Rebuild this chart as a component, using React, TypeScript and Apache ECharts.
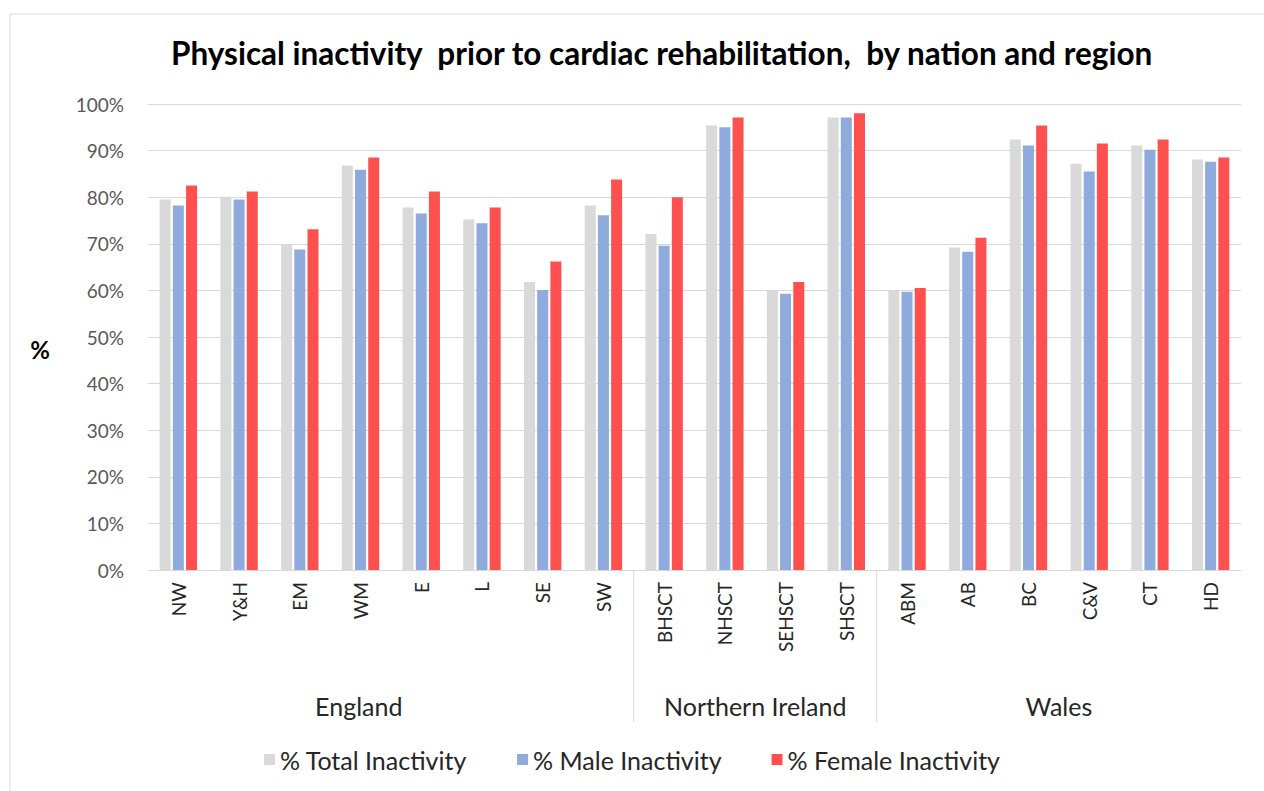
import React, { useEffect, useRef } from "react";
import * as echarts from "echarts";

const categories = ["NW", "Y&H", "EM", "WM", "E", "L", "SE", "SW", "BHSCT", "NHSCT", "SEHSCT", "SHSCT", "ABM", "AB", "BC", "C&V", "CT", "HD"];
const groupNames = ["England", "Northern Ireland", "Wales"];
const groupSizes = [8, 4, 6];
const totalInactivity = [79.5, 80.1, 69.9, 86.8, 77.8, 75.2, 61.8, 78.2, 72.1, 95.4, 59.9, 97.1, 59.9, 69.2, 92.4, 87.2, 91.1, 88.1];
const maleInactivity = [78.2, 79.5, 68.8, 85.9, 76.5, 74.4, 60.1, 76.1, 69.6, 95.0, 59.3, 97.1, 59.7, 68.3, 91.1, 85.5, 90.2, 87.6];
const femaleInactivity = [82.5, 81.2, 73.1, 88.5, 81.2, 77.8, 66.2, 83.8, 80.0, 97.1, 61.8, 98.0, 60.5, 71.3, 95.4, 91.5, 92.4, 88.5];
const seriesNames = ["% Total Inactivity", "% Male Inactivity", "% Female Inactivity"];
const seriesColors = ["#D9D9D9", "#8FAADC", "#FF5050"];

const FONT = "Lato, 'Open Sans', sans-serif";

export default function App() {
  const ref = useRef<HTMLDivElement>(null);
  useEffect(() => {
    if (!ref.current) return;
    const chart = echarts.init(ref.current, null, { renderer: "svg" });
    const data = [totalInactivity, maleInactivity, femaleInactivity];
    chart.setOption({
      animation: false,
      backgroundColor: "#ffffff",
      textStyle: { fontFamily: FONT },
      title: {
        text: "Physical inactivity  prior to cardiac rehabilitation,  by nation and region",
        left: 166,
        top: 32,
        textStyle: { fontFamily: FONT, fontWeight: "bold", fontSize: 31.5, color: "#000000" },
      },
      grid: { left: 148, right: 23, top: 104, bottom: 221, containLabel: false },
      legend: {
        bottom: 14,
        left: "center",
        icon: "rect",
        itemWidth: 11,
        itemHeight: 11,
        itemGap: 50,
        textStyle: { fontFamily: FONT, fontSize: 25, color: "#262626" },
        data: seriesNames,
      },
      xAxis: {
        type: "category",
        data: categories,
        axisLine: { lineStyle: { color: "#D9D9D9", width: 1 } },
        axisTick: { show: false },
        axisLabel: { rotate: 90, margin: 12, fontSize: 19, color: "#262626", fontFamily: FONT, interval: 0 },
      },
      yAxis: {
        type: "value",
        min: 0,
        max: 100,
        interval: 10,
        axisLine: { show: false },
        axisTick: { show: false },
        axisLabel: { formatter: "{value}%", fontSize: 19, color: "#595959", margin: 24, fontFamily: FONT },
        splitLine: { lineStyle: { color: "#D9D9D9", width: 1 } },
      },
      series: seriesNames.map((n, i) => ({
        name: n,
        type: "bar",
        data: data[i],
        barWidth: 11,
        barGap: "20%",
        itemStyle: { color: seriesColors[i] },
      })),
    });

    const c0 = chart.convertToPixel({ xAxisIndex: 0 }, 0) as number;
    const c1 = chart.convertToPixel({ xAxisIndex: 0 }, 1) as number;
    const step = c1 - c0;
    const y0 = chart.convertToPixel({ yAxisIndex: 0 }, 0) as number;
    const y100 = chart.convertToPixel({ yAxisIndex: 0 }, 100) as number;
    const graphics: any[] = [
      {
        type: "rect",
        shape: { x: 10, y: 14, width: 1400, height: 900 },
        style: { fill: "none", stroke: "#D9D9D9", lineWidth: 1 },
        silent: true,
      },
      {
        type: "text",
        x: 40,
        y: (y0 + y100) / 2 + 12,
        style: { text: "%", fontSize: 24, fontWeight: "bold", fill: "#000000", fontFamily: FONT, textAlign: "center", textVerticalAlign: "middle" },
      },
    ];
    let start = 0;
    groupNames.forEach((g, gi) => {
      const end = start + groupSizes[gi];
      const leftX = c0 - step / 2 + start * step;
      const rightX = c0 - step / 2 + end * step;
      let cx = (leftX + rightX) / 2;
      if (gi === 0) cx = rightX - 275;
      graphics.push({
        type: "text",
        x: cx,
        y: y0 + 136,
        style: { text: g, fontSize: 25, fill: "#262626", fontFamily: FONT, textAlign: "center", textVerticalAlign: "middle" },
      });
      if (gi < groupNames.length - 1) {
        graphics.push({
          type: "line",
          shape: { x1: rightX, y1: y0, x2: rightX, y2: y0 + 152 },
          style: { stroke: "#D9D9D9", lineWidth: 1 },
        });
      }
      start = end;
    });
    chart.setOption({ graphic: graphics });
    return () => chart.dispose();
  }, []);
  return <div ref={ref} style={{ position: "fixed", left: 0, top: 0, width: 1264, height: 791 }} />;
}
